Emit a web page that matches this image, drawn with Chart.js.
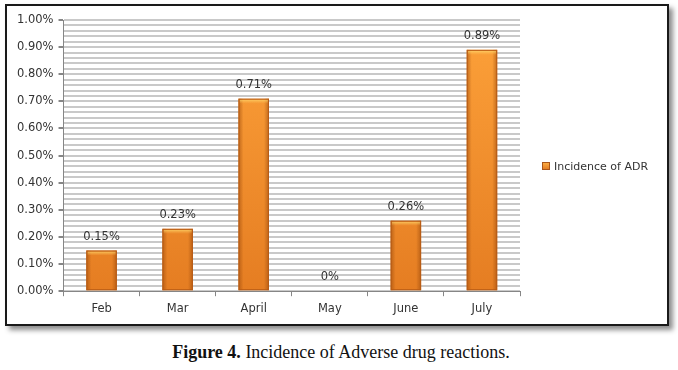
<!DOCTYPE html>
<html>
<head>
<meta charset="utf-8">
<script src="https://cdn.jsdelivr.net/npm/chart.js@4"></script>
<style>
    html, body { margin: 0; padding: 0; background: #fff; width: 678px; height: 370px; overflow: hidden; }
    #box { position: absolute; left: 5px; top: 4px; width: 660px; height: 318px; border: 2px solid #1a1a1a; box-shadow: 4px 4px 5px rgba(0,0,0,0.45); background: #fff; }
    #wrap { position: absolute; left: 0; top: 0; width: 660px; height: 318px; }
    #caption { position: absolute; left: 0; width: 682px; top: 342px; text-align: center; font-family: "Liberation Serif", serif; font-size: 18px; color: #111; }
</style>
</head>
<body>
<div id="box"><div id="wrap"><canvas id="chart"></canvas></div></div>
<div id="caption"><b>Figure 4.</b> Incidence of Adverse drug reactions.</div>
<script>
const months = ['Feb', 'Mar', 'April', 'May', 'June', 'July'];
const adrValues = [0.15, 0.23, 0.71, 0, 0.26, 0.89];
const seriesName = 'Incidence of ADR';
const yMin = 0, yMax = 1, yMajorStep = 0.1, yMinorStep = 0.02;

const FONT = 'DejaVu Sans';
const FSIZE = 11.5;

function pctLabel(v) { return v === 0 ? '0%' : v.toFixed(2) + '%'; }
function isMajor(v) { return Math.round(v / yMinorStep) % Math.round(yMajorStep / yMinorStep) === 0; }

// bevel edges on each bar, placed from the bar elements themselves
const barBevel = {
    id: 'barBevel',
    afterDatasetsDraw(chart) {
        const ctx = chart.ctx;
        chart.getDatasetMeta(0).data.forEach(bar => {
            const h = bar.base - bar.y;
            if (h < 1) return;
            const l = bar.x - bar.width / 2, r = bar.x + bar.width / 2;
            ctx.save();
            let g = ctx.createLinearGradient(l, 0, l + 5, 0);
            g.addColorStop(0, 'rgba(150,70,10,0.55)'); g.addColorStop(1, 'rgba(150,70,10,0)');
            ctx.fillStyle = g; ctx.fillRect(l, bar.y, 5, h);
            g = ctx.createLinearGradient(r - 5, 0, r, 0);
            g.addColorStop(0, 'rgba(150,70,10,0)'); g.addColorStop(1, 'rgba(150,70,10,0.55)');
            ctx.fillStyle = g; ctx.fillRect(r - 5, bar.y, 5, h);
            g = ctx.createLinearGradient(0, bar.y, 0, bar.y + 5);
            g.addColorStop(0, 'rgba(255,225,120,0.9)'); g.addColorStop(1, 'rgba(255,200,90,0)');
            ctx.fillStyle = g; ctx.fillRect(l + 1, bar.y + 1, bar.width - 2, Math.min(5, h - 1));
            ctx.strokeStyle = '#b85c16'; ctx.lineWidth = 1;
            ctx.strokeRect(l + 0.5, bar.y + 0.5, bar.width - 1, h - 1);
            ctx.restore();
        });
    }
};

const valueLabels = {
    id: 'valueLabels',
    afterDatasetsDraw(chart) {
        const ctx = chart.ctx;
        ctx.save();
        ctx.font = FSIZE + 'px "' + FONT + '"';
        ctx.fillStyle = '#333';
        ctx.textAlign = 'center';
        ctx.textBaseline = 'middle';
        chart.getDatasetMeta(0).data.forEach((bar, i) => {
            ctx.fillText(pctLabel(adrValues[i]), bar.x, bar.y - 14);
        });
        ctx.restore();
    }
};

const sideLegend = {
    id: 'sideLegend',
    afterDraw(chart) {
        const ctx = chart.ctx, a = chart.chartArea;
        const x = a.right + 22, y = 160;
        ctx.save();
        const g = ctx.createLinearGradient(0, y - 4, 0, y + 4);
        g.addColorStop(0, '#ffb347'); g.addColorStop(1, '#e07820');
        ctx.fillStyle = g; ctx.fillRect(x, y - 4, 8, 8);
        ctx.strokeStyle = '#a9561a'; ctx.strokeRect(x + 0.5, y - 3.5, 7, 7);
        ctx.font = '11px "' + FONT + '"';
        ctx.fillStyle = '#333';
        ctx.textBaseline = 'middle';
        ctx.fillText(seriesName, x + 12, y + 1);
        ctx.restore();
    }
};

new Chart(document.getElementById('chart'), {
    type: 'bar',
    data: {
        labels: months,
        datasets: [{
            label: seriesName,
            data: adrValues,
            backgroundColor: (c) => {
                const a = c.chart.chartArea;
                if (!a) return '#f7941d';
                const g = c.chart.ctx.createLinearGradient(0, a.top, 0, a.bottom);
                g.addColorStop(0, '#fda23a');
                g.addColorStop(1, '#e57d22');
                return g;
            },
            borderWidth: 0,
            categoryPercentage: 1,
            barPercentage: 0.4
        }]
    },
    plugins: [barBevel, valueLabels, sideLegend],
    options: {
        responsive: true,
        maintainAspectRatio: false,
        animation: false,
        layout: { padding: { left: 5, right: 147, top: 14, bottom: 2 } },
        plugins: { legend: { display: false }, tooltip: { enabled: false } },
        scales: {
            x: {
                grid: { display: true, drawOnChartArea: false, offset: true, tickLength: 5, color: '#868686' },
                border: { color: '#868686' },
                ticks: { color: '#333', font: { family: FONT, size: FSIZE }, padding: 6 }
            },
            y: {
                min: yMin, max: yMax,
                grid: {
                    color: '#c9c9c9', lineWidth: 2, tickLength: 5,
                    tickColor: (c) => isMajor(c.tick.value) ? '#868686' : 'rgba(0,0,0,0)'
                },
                border: { color: '#868686' },
                ticks: {
                    stepSize: yMinorStep, autoSkip: false, padding: 5,
                    color: '#333', font: { family: FONT, size: FSIZE },
                    callback: (v) => isMajor(v) ? v.toFixed(2) + '%' : ''
                }
            }
        }
    }
});
</script>
</body>
</html>
